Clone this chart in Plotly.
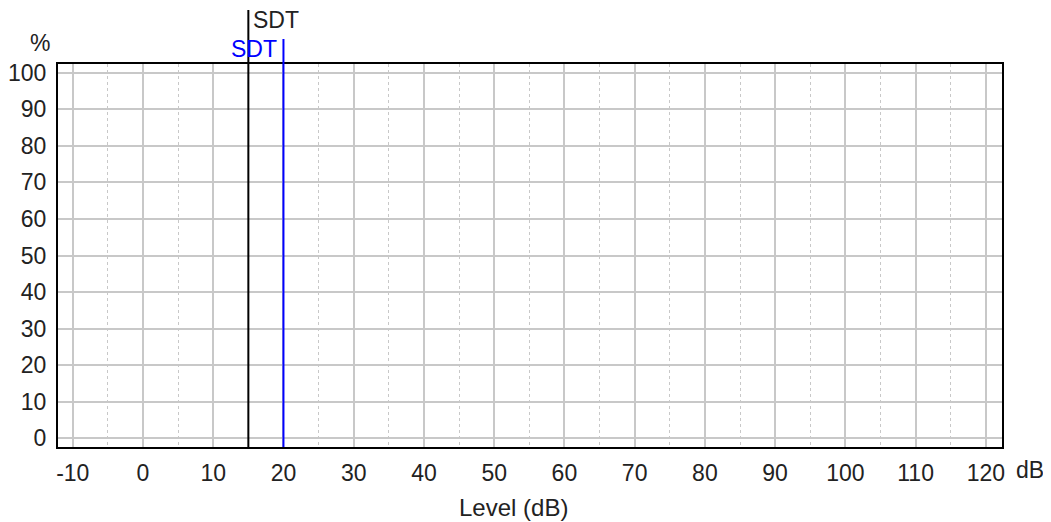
import plotly.graph_objects as go

x_ticks = list(range(-10, 121, 10))
x_tick_labels = [str(v) for v in x_ticks]  # hyphen-minus as in reference
x_minor = list(range(-5, 120, 10))
y_ticks = list(range(0, 101, 10))
markers = ["SDT", "SDT"]
marker_levels = [15, 20]
marker_colors = ["#000000", "#0000ff"]

FONT = "Liberation Sans, Arial, sans-serif"
FS = 23
fig = go.Figure()
# invisible trace to establish axes
fig.add_trace(go.Scatter(x=[marker_levels[0]], y=[0], mode="markers",
                         marker=dict(opacity=0), showlegend=False, hoverinfo="skip"))

tops = [1.141, 1.065]
for lvl, col, top in zip(marker_levels, marker_colors, tops):
    fig.add_shape(type="line", xref="x", yref="paper", x0=lvl, x1=lvl, y0=0, y1=top,
                  line=dict(color=col, width=2), layer="above")

fig.add_annotation(x=marker_levels[0], y=1.114, xref="x", yref="paper", text=markers[0],
                   showarrow=False, xanchor="left", yanchor="middle", xshift=3,
                   font=dict(family=FONT, size=FS, color="#222"))
fig.add_annotation(x=marker_levels[1], y=1.038, xref="x", yref="paper", text=markers[1],
                   showarrow=False, xanchor="right", yanchor="middle", xshift=-4,
                   font=dict(family=FONT, size=FS, color=marker_colors[1]))
fig.add_annotation(x=0, y=1.056, xref="paper", yref="paper", text="%",
                   showarrow=False, xanchor="right", yanchor="middle", xshift=-6,
                   font=dict(family=FONT, size=FS, color="#222"))
fig.add_annotation(x=1, y=0, xref="paper", yref="paper", text="dB",
                   showarrow=False, xanchor="left", yanchor="middle", xshift=12, yshift=-23,
                   font=dict(family=FONT, size=FS, color="#222"))
fig.add_annotation(x=0.483, y=0, xref="paper", yref="paper", text="Level (dB)",
                   showarrow=False, xanchor="center", yanchor="middle", yshift=-60,
                   font=dict(family=FONT, size=24, color="#222"))

fig.update_layout(
    width=1051, height=514,
    margin=dict(l=50, r=57, t=56, b=75, autoexpand=False),
    plot_bgcolor="white", paper_bgcolor="white",
    font=dict(family=FONT, size=FS, color="#222"),
    showlegend=False,
    xaxis=dict(range=[-12.1, 122.3], tickvals=x_ticks, ticktext=x_tick_labels, ticks="",
               showgrid=True, gridcolor="#c8c8c8", gridwidth=2,
               minor=dict(tickvals=x_minor, showgrid=True, gridcolor="#c8c8c8",
                          griddash="dot", gridwidth=1, ticks=""),
               showline=True, mirror=True, linecolor="#000", linewidth=2,
               zeroline=False, ticklabelstandoff=4, automargin=False),
    yaxis=dict(range=[-2.4, 102.4], tickvals=y_ticks, ticks="",
               showgrid=True, gridcolor="#c8c8c8", gridwidth=2,
               showline=True, mirror=True, linecolor="#000", linewidth=2,
               zeroline=False, ticklabelstandoff=5, automargin=False),
)

fig.write_html("out.html")
